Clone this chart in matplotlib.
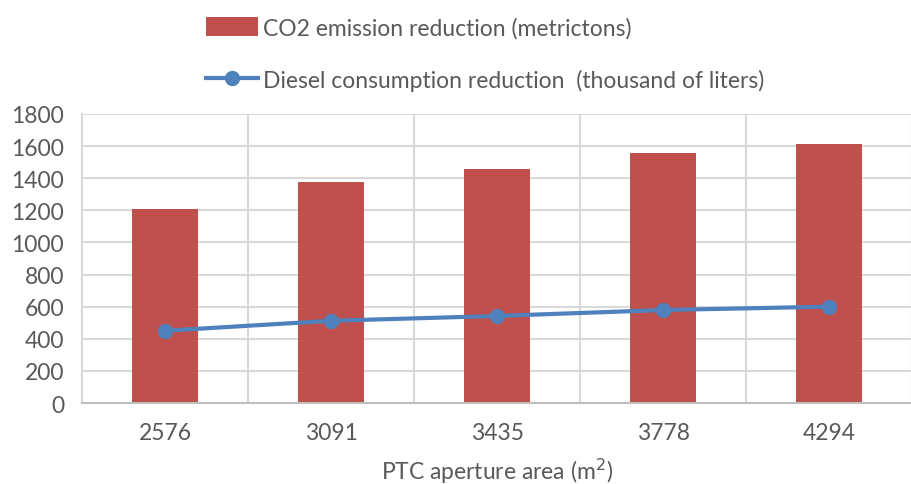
import matplotlib
matplotlib.use('Agg')
import numpy as np
from matplotlib import pyplot as plt


areas = ['2576', '3091', '3435', '3778', '4294']
co2_reduction = [1208, 1379, 1458, 1554, 1610]
diesel_reduction = [450, 512, 542, 579, 600]

plt.rcParams['font.family'] = ['Lato', 'DejaVu Sans']
txt = '#595959'
grid = '#D9D9D9'

fig = plt.figure(figsize=(9.12, 4.85), dpi=100)
ax = fig.add_axes([0.09, 0.167, 0.91, 0.596])

x = np.arange(len(areas))
bars = ax.bar(x, co2_reduction, width=0.4, color='#C0504D', zorder=2,
              label='CO2 emission reduction (metrictons)')
line, = ax.plot(x, diesel_reduction, color='#4F81BD', lw=3, marker='o', ms=10,
                zorder=3, label='Diesel consumption reduction  (thousand of liters)')

ax.set_xlim(-0.5, 4.5)
ax.set_ylim(0, 1800)
ax.set_yticks(range(0, 1801, 200))
ax.set_xticks(x)
ax.set_xticklabels(areas)
ax.set_xticks(np.arange(0.5, 4.6, 1), minor=True)
ax.grid(True, axis='y', color=grid, lw=1.5, zorder=0)
ax.grid(True, axis='x', which='minor', color=grid, lw=1.5, zorder=0)
ax.tick_params(axis='both', which='both', length=0, labelsize=16.5, colors=txt)
ax.tick_params(axis='x', pad=14)
ax.tick_params(axis='y', pad=13)

for s in ['top', 'right']:
    ax.spines[s].set_visible(False)
ax.spines['left'].set_color(grid)
ax.spines['left'].set_linewidth(1.5)
ax.spines['bottom'].set_color('#BFBFBF')
ax.spines['bottom'].set_linewidth(1.5)

ax.set_xlabel('PTC aperture area (m$^2$)', fontsize=16.5, color=txt, labelpad=9)

fig.legend(handles=[bars, line], loc='upper left', bbox_to_anchor=(0.203, 1.005),
           frameon=False, fontsize=16.5, labelcolor=txt, handlelength=2.3,
           handleheight=0.9, handletextpad=0.2, labelspacing=1.3)

fig.savefig('out.png', dpi=100)
